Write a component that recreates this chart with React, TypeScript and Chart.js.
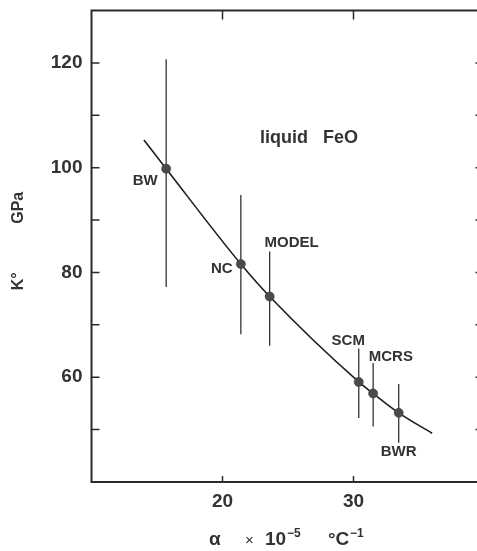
import React, { useEffect, useRef } from "react";
import { Chart, registerables } from "chart.js";

Chart.register(...registerables);

// ---- data ----
const pointLabels = ["BW", "NC", "MODEL", "SCM", "MCRS", "BWR"];
const alphaValues = [15.7, 21.4, 23.6, 30.4, 31.5, 33.45];
const kValues = [99.8, 81.6, 75.4, 59.1, 56.9, 53.2];
const kHigh = [120.7, 94.8, 84.0, 65.5, 62.7, 58.7];
const kLow = [77.2, 68.2, 66.0, 52.2, 50.6, 47.5];
const curveAlpha = [14.0, 15.7, 21.4, 23.6, 30.4, 31.5, 33.45, 36.0];
const curveK = [105.3, 99.8, 81.6, 75.4, 59.1, 56.9, 53.2, 49.3];
const xTickLabels = [20, 30];
const yTickLabels = [60, 80, 100, 120];
const yMinorTicks = [50, 60, 70, 80, 90, 100, 110, 120];
const annotationText = "liquid   FeO";
const annotationAt = { x: 22.86, y: 105.66 };

const FONT = '"Liberation Sans", Arial, Helvetica, sans-serif';
const INK = "#2b2b2b";

// label placement: anchor = which end of the error bar, and pixel offset
const labelPlacement: Record<string, { anchor: "point" | "high" | "low"; dx: number; dy: number }> = {
  BW: { anchor: "point", dx: -21, dy: 12 },
  NC: { anchor: "point", dx: -19, dy: 5 },
  MODEL: { anchor: "high", dx: 22, dy: -8.5 },
  SCM: { anchor: "high", dx: -10.5, dy: -7.3 },
  MCRS: { anchor: "high", dx: 17.7, dy: -6.6 },
  BWR: { anchor: "low", dx: 0, dy: 9 },
};

const framePlugin = {
  id: "framePlugin",
  beforeDatasetsDraw(chart: any) {
    const { ctx, scales } = chart;
    const xs = scales.x;
    const ys = scales.y;
    ctx.save();
    ctx.strokeStyle = "#333";
    ctx.lineWidth = 1.3;
    for (let i = 0; i < alphaValues.length; i++) {
      const px = xs.getPixelForValue(alphaValues[i]);
      ctx.beginPath();
      ctx.moveTo(px, ys.getPixelForValue(kHigh[i]));
      ctx.lineTo(px, ys.getPixelForValue(kLow[i]));
      ctx.stroke();
    }
    ctx.restore();
  },
  afterDraw(chart: any) {
    const { ctx, chartArea: a, scales } = chart;
    const xs = scales.x;
    const ys = scales.y;
    ctx.save();
    // frame
    ctx.strokeStyle = INK;
    ctx.lineWidth = 2;
    ctx.strokeRect(a.left, a.top, a.right - a.left, a.bottom - a.top);
    // ticks
    ctx.lineWidth = 1.5;
    ctx.beginPath();
    for (const v of yMinorTicks) {
      const py = ys.getPixelForValue(v);
      ctx.moveTo(a.left, py);
      ctx.lineTo(a.left + 8, py);
      ctx.moveTo(a.right, py);
      ctx.lineTo(a.right - 9, py);
    }
    for (const v of xTickLabels) {
      const px = xs.getPixelForValue(v);
      ctx.moveTo(px, a.top);
      ctx.lineTo(px, a.top + 9);
      ctx.moveTo(px, a.bottom);
      ctx.lineTo(px, a.bottom - 6);
    }
    ctx.stroke();

    // point labels
    ctx.fillStyle = "#333";
    ctx.font = `bold 15px ${FONT}`;
    ctx.textAlign = "center";
    ctx.textBaseline = "middle";
    pointLabels.forEach((lab, i) => {
      const p = labelPlacement[lab];
      const px = xs.getPixelForValue(alphaValues[i]);
      const val = p.anchor === "high" ? kHigh[i] : p.anchor === "low" ? kLow[i] : kValues[i];
      const py = ys.getPixelForValue(val);
      ctx.fillText(lab, px + p.dx, py + p.dy);
    });

    // annotation
    ctx.font = `bold 18px ${FONT}`;
    ctx.textAlign = "left";
    ctx.fillText(annotationText, xs.getPixelForValue(annotationAt.x), ys.getPixelForValue(annotationAt.y));

    // y-axis title (rotated)
    const cy = (a.top + a.bottom) / 2;
    ctx.font = `bold 16px ${FONT}`;
    ctx.textAlign = "center";
    const drawRot = (t: string, x: number, y: number) => {
      ctx.save();
      ctx.translate(x, y);
      ctx.rotate(-Math.PI / 2);
      ctx.fillText(t, 0, 0);
      ctx.restore();
    };
    drawRot("K°", 19, cy + 35);
    drawRot("GPa", 19, cy - 38.5);

    // x-axis title with superscripts
    const cx = (a.left + a.right) / 2;
    const base = 545;
    ctx.textBaseline = "alphabetic";
    ctx.textAlign = "left";
    ctx.font = `bold 19px ${FONT}`;
    ctx.fillText("α", cx - 79, base);
    ctx.font = `15px ${FONT}`;
    ctx.fillText("×", cx - 43, base);
    ctx.font = `bold 19px ${FONT}`;
    ctx.fillText("10", cx - 23, base);
    ctx.font = `bold 12px ${FONT}`;
    ctx.fillText("−5", cx - 1, base - 8);
    ctx.font = `bold 19px ${FONT}`;
    ctx.fillText("°C", cx + 40, base);
    ctx.font = `bold 12px ${FONT}`;
    ctx.fillText("−1", cx + 62, base - 8);
    ctx.restore();
  },
};

export default function App() {
  const ref = useRef<HTMLCanvasElement | null>(null);
  useEffect(() => {
    if (!ref.current) return;
    const chart = new Chart(ref.current, {
      type: "scatter",
      data: {
        datasets: [
          {
            type: "scatter",
            data: alphaValues.map((x, i) => ({ x, y: kValues[i] })),
            pointRadius: 4.6,
            backgroundColor: "#4a4a4a",
            borderColor: "#3a3a3a",
            borderWidth: 0.5,
            order: 0,
          } as any,
          {
            type: "line",
            data: curveAlpha.map((x, i) => ({ x, y: curveK[i] })),
            borderColor: "#1e1e1e",
            borderWidth: 1.6,
            pointRadius: 0,
            cubicInterpolationMode: "monotone",
            fill: false,
            order: 1,
          } as any,
        ],
      },
      options: {
        animation: false,
        responsive: false,
        events: [],
        layout: { padding: { top: 10.5, right: 15.5, left: 0, bottom: 0 } },
        plugins: { legend: { display: false }, tooltip: { enabled: false } },
        scales: {
          x: {
            type: "linear",
            position: "bottom",
            min: 10,
            max: 40,
            grid: { display: false, drawTicks: false },
            border: { display: false },
            ticks: {
              stepSize: 10,
              autoSkip: false,
              padding: 8,
              color: "#333",
              font: { family: FONT, size: 19, weight: "bold" },
              callback: (v: any) => (xTickLabels.includes(Number(v)) ? String(v) : ""),
            },
            afterFit: (s: any) => {
              s.height = 69;
              s.paddingLeft = 0;
              s.paddingRight = 0;
            },
          },
          y: {
            type: "linear",
            min: 40,
            max: 130,
            grid: { display: false, drawTicks: false },
            border: { display: false },
            ticks: {
              stepSize: 10,
              autoSkip: false,
              padding: 9,
              color: "#333",
              font: { family: FONT, size: 19, weight: "bold" },
              callback: (v: any) => (yTickLabels.includes(Number(v)) ? String(v) : ""),
            },
            afterFit: (s: any) => {
              s.width = 91.5;
              s.paddingTop = 0;
              s.paddingBottom = 0;
            },
          },
        },
      } as any,
      plugins: [framePlugin],
    });
    return () => chart.destroy();
  }, []);
  return (
    <div
      style={{
        position: "fixed",
        left: 0,
        top: 0,
        width: 477,
        height: 551,
        overflow: "hidden",
        background: "#fff",
      }}
    >
      <canvas ref={ref} width={500} height={551} style={{ display: "block", width: 500, height: 551 }} />
    </div>
  );
}
